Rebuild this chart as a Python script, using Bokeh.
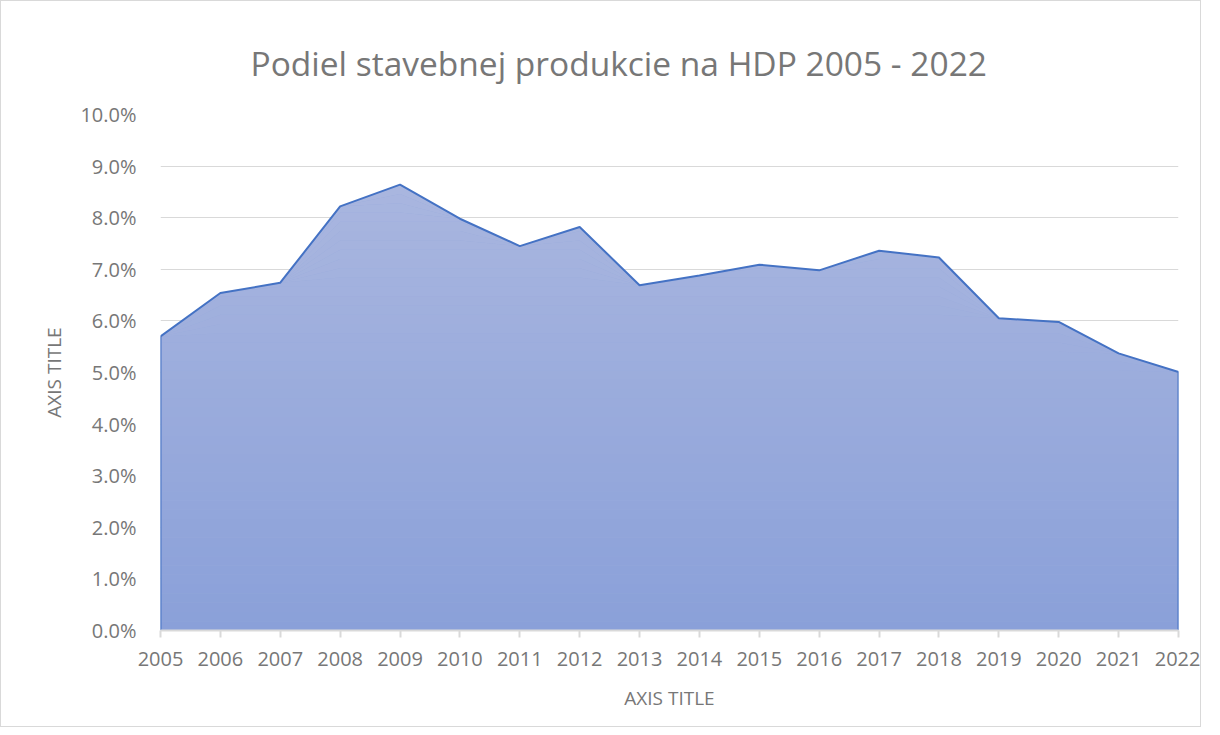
import numpy as np
from bokeh.plotting import figure
from bokeh.models import Range1d, FixedTicker, NumeralTickFormatter
from bokeh.embed import file_html
from bokeh.resources import INLINE

# ---- data ----
years = list(range(2005, 2023))
share_pct = [5.70, 6.54, 6.74, 8.22, 8.64, 7.98, 7.45, 7.82, 6.69, 6.88,
             7.09, 6.98, 7.36, 7.23, 6.05, 5.98, 5.37, 5.01]
y_ticks_pct = [0, 1, 2, 3, 4, 5, 6, 7, 8, 9, 10]
title_text = "Podiel stavebnej produkcie na HDP 2005 - 2022"
x_title = "AXIS TITLE"
y_title = "AXIS TITLE"

shares = np.array(share_pct) / 100.0

FONT = "Open Sans"
TXT = "#777777"
GRID = "#d9d9d9"
TOP_C = np.array([0xa9, 0xb6, 0xdf])
BOT_C = np.array([0x8a, 0xa0, 0xd9])

p = figure(width=1201, height=727, output_backend="svg", toolbar_location=None,
           x_range=Range1d(years[0], years[-1]), y_range=Range1d(0, 0.10),
           min_border_left=159, min_border_right=24, min_border_top=113,
           min_border_bottom=98)
p.styles = {"border": "1px solid #d9d9d9"}
p.outline_line_color = None

# title
p.title.text = title_text
p.title.text_font = FONT
p.title.text_font_size = "33.5px"
p.title.text_font_style = "normal"
p.title.text_color = TXT
p.title.align = "left"
p.title.offset = 90
p.title.standoff = 58

# gradient fill via stacked bands
top = shares.max()
nb = 48
edges = np.linspace(0, top, nb + 1)
mid_c = (TOP_C + BOT_C) / 2
p.varea(x=years, y1=np.zeros_like(shares), y2=shares,
        fill_color="#%02x%02x%02x" % tuple(int(c) for c in mid_c), fill_alpha=1)
for k in range(nb):
    lo, hi = edges[k], edges[k + 1]
    t = (lo + hi) / 2 / top
    c = BOT_C + (TOP_C - BOT_C) * t
    col = "#%02x%02x%02x" % tuple(int(round(v)) for v in c)
    p.varea(x=years, y1=np.minimum(shares, lo), y2=np.minimum(shares, hi),
            fill_color=col, fill_alpha=1)

# outline of the area
ox = [years[0]] + years + [years[-1]]
oy = [0.0] + list(shares) + [0.0]
p.line(ox, oy, line_color="#4472c4", line_width=2)

# grid
p.xgrid.grid_line_color = None
p.ygrid.grid_line_color = GRID
p.ygrid.grid_line_width = 1

# y axis
p.yaxis.ticker = FixedTicker(ticks=[v / 100 for v in y_ticks_pct])
p.yaxis.formatter = NumeralTickFormatter(format="0.0%")
p.yaxis.axis_line_color = None
p.yaxis.major_tick_line_color = None
p.yaxis.minor_tick_line_color = None
p.yaxis.major_label_text_font = FONT
p.yaxis.major_label_text_font_size = "20px"
p.yaxis.major_label_text_color = TXT
p.yaxis.major_label_standoff = 18
p.yaxis.axis_label = y_title
p.yaxis.axis_label_text_font = FONT
p.yaxis.axis_label_text_font_size = "19px"
p.yaxis.axis_label_text_font_style = "normal"
p.yaxis.axis_label_text_color = TXT
p.yaxis.axis_label_standoff = 10

# x axis
p.xaxis.ticker = FixedTicker(ticks=years)
p.xaxis.axis_line_color = GRID
p.xaxis.axis_line_width = 2
p.xaxis.major_tick_line_color = GRID
p.xaxis.major_tick_line_width = 2
p.xaxis.major_tick_out = 7
p.xaxis.major_tick_in = 0
p.xaxis.minor_tick_line_color = None
p.xaxis.major_label_text_font = FONT
p.xaxis.major_label_text_font_size = "20px"
p.xaxis.major_label_text_color = TXT
p.xaxis.major_label_standoff = 14
p.xaxis.axis_label = x_title
p.xaxis.axis_label_text_font = FONT
p.xaxis.axis_label_text_font_size = "19px"
p.xaxis.axis_label_text_font_style = "normal"
p.xaxis.axis_label_text_color = TXT
p.xaxis.axis_label_standoff = 16

open("out.html", "w").write(file_html(p, INLINE))
